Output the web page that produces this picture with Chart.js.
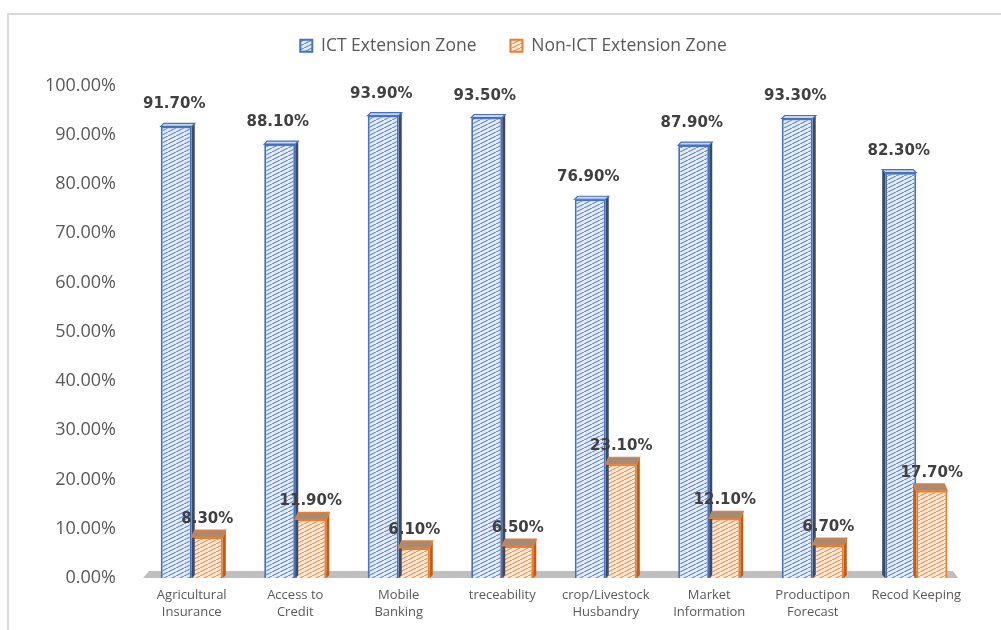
<!DOCTYPE html>
<html>
<head>
<meta charset="utf-8">
<script src="https://cdn.jsdelivr.net/npm/chart.js@4"></script>
<style>
  html, body { margin: 0; padding: 0; background: #fff; }
  .wrap { position: relative; width: 1001px; height: 630px; overflow: hidden; }
  .frame { position: absolute; left: 7px; top: 13px; right: -10px; bottom: -10px;
           border-left: 2px solid #d9d9d9; border-top: 2px solid #d9d9d9; }
  canvas { position: absolute; left: 0; top: 0; }
</style>
</head>
<body>
<div class="wrap">
  <div class="frame"></div>
  <canvas id="chart" width="1001" height="630"></canvas>
</div>
<script>
const categories = [
  ['Agricultural', 'Insurance'],
  ['Access to', 'Credit'],
  ['Mobile', 'Banking'],
  'treceability',
  ['crop/Livestock', 'Husbandry'],
  ['Market', 'Information'],
  ['Productipon', 'Forecast'],
  'Recod Keeping'
];
const ictValues = [91.7, 88.1, 93.9, 93.5, 76.9, 87.9, 93.3, 82.3];
const nonIctValues = [8.3, 11.9, 6.1, 6.5, 23.1, 12.1, 6.7, 17.7];
const yTicks = [0, 10, 20, 30, 40, 50, 60, 70, 80, 90, 100];

const canvas = document.getElementById('chart');
const ctx = canvas.getContext('2d');

// small diagonal hatch tile, like the Excel pattern fill
function hatch(bg, line) {
  const tile = document.createElement('canvas');
  tile.width = 8;
  tile.height = 4;
  const t = tile.getContext('2d');
  t.fillStyle = bg;
  t.fillRect(0, 0, 8, 4);
  t.strokeStyle = line;
  t.lineWidth = 1.1;
  t.beginPath();
  t.moveTo(-2, 5);
  t.lineTo(10, -1);
  t.stroke();
  return ctx.createPattern(tile, 'repeat');
}

const blueHatch = hatch('#e4ebf7', '#5b85d0');
const orangeHatch = hatch('#fdeadb', '#f08a44');

// grey floor under the columns
const floorPlugin = {
  id: 'floor',
  // the legend in the original sits a bit right of the canvas centre
  afterLayout(chart) {
    chart.legend.left += 17;
    chart.legend.right += 17;
  },
  beforeDatasetsDraw(chart) {
    const { ctx, chartArea: a } = chart;
    const base = chart.scales.y.getPixelForValue(0);
    ctx.save();
    ctx.fillStyle = '#bfbfbf';
    ctx.beginPath();
    ctx.moveTo(a.left + 3, base);
    ctx.lineTo(a.right - 10, base);
    ctx.lineTo(a.right - 15, base - 7);
    ctx.lineTo(a.left + 9, base - 7);
    ctx.closePath();
    ctx.fill();
    ctx.restore();
  }
};

// fake 3D: a top face and a side face on each column, then the value labels
const depthPlugin = {
  id: 'depth',
  afterDatasetsDraw(chart) {
    const { ctx, chartArea: a } = chart;
    const base = chart.scales.y.getPixelForValue(0);
    const vp = a.left + (a.right - a.left) * 0.9;
    chart.data.datasets.forEach((ds, di) => {
      const meta = chart.getDatasetMeta(di);
      meta.data.forEach((bar, i) => {
        const half = bar.width / 2;
        const l = bar.x - half, r = bar.x + half, y = bar.y;
        const d = ds.depth;
        const sx = bar.x < vp ? 3 : -3;
        ctx.save();
        // side
        ctx.fillStyle = ds.sideColor;
        ctx.beginPath();
        const edge = sx > 0 ? r : l;
        ctx.moveTo(edge, y);
        ctx.lineTo(edge + sx, y - d);
        ctx.lineTo(edge + sx, base - 3);
        ctx.lineTo(edge, base);
        ctx.closePath();
        ctx.fill();
        // top
        ctx.fillStyle = ds.topColor;
        ctx.strokeStyle = ds.borderColor;
        ctx.lineWidth = 1.2;
        ctx.beginPath();
        ctx.moveTo(l, y);
        ctx.lineTo(r, y);
        ctx.lineTo(r + sx, y - d);
        ctx.lineTo(l + sx, y - d);
        ctx.closePath();
        ctx.fill();
        ctx.stroke();
        // label
        ctx.fillStyle = '#404040';
        ctx.font = 'bold 15px "DejaVu Sans"';
        ctx.textAlign = 'center';
        ctx.textBaseline = 'alphabetic';
        ctx.fillText(ds.data[i].toFixed(2) + '%', bar.x + ds.labelShift, y - ds.labelGap);
        ctx.restore();
      });
    });
  }
};

new Chart(canvas, {
  type: 'bar',
  data: {
    labels: categories,
    datasets: [{
      label: 'ICT Extension Zone',
      data: ictValues,
      backgroundColor: blueHatch,
      borderColor: '#4472c4',
      borderWidth: 2,
      topColor: '#c9d6ef',
      sideColor: '#3b4a63',
      depth: 3,
      labelGap: 18,
      labelShift: -2,
    }, {
      label: 'Non-ICT Extension Zone',
      data: nonIctValues,
      backgroundColor: orangeHatch,
      borderColor: '#ed7d31',
      borderWidth: 2,
      topColor: '#a88a72',
      sideColor: '#c55a11',
      depth: 7,
      labelGap: 14,
      labelShift: 0,
    }],
  },
  options: {
    responsive: false,
    animation: false,
    categoryPercentage: 0.6,
    barPercentage: 1,
    layout: { padding: { left: 25, right: 33, top: 3, bottom: 0 } },
    plugins: {
      legend: {
        position: 'top',
        labels: {
          boxWidth: 12,
          boxHeight: 12,
          padding: 34,
          color: '#595959',
          font: { family: '"Open Sans"', size: 17.5 },
        },
      },
      // blank spacer between the legend and the plot
      title: {
        display: true,
        text: '',
        weight: 500,
        font: { size: 10, lineHeight: 1 },
        padding: { top: 5, bottom: 6 },
      },
      tooltip: { enabled: false },
    },
    scales: {
      x: {
        grid: { display: false, drawTicks: false },
        border: { display: false },
        afterFit: (scale) => { scale.height = 52; },
        ticks: {
          color: '#595959',
          padding: 9,
          maxRotation: 0,
          autoSkip: false,
          font: { family: '"Open Sans"', size: 13, lineHeight: 1.3 },
        },
      },
      y: {
        min: yTicks[0],
        max: yTicks[yTicks.length - 1],
        afterBuildTicks: (scale) => { scale.ticks = yTicks.map((v) => ({ value: v })); },
        afterFit: (scale) => { scale.width = 115; },
        grid: { display: false, drawTicks: false },
        border: { display: false },
        ticks: {
          color: '#595959',
          padding: 24,
          autoSkip: false,
          font: { family: '"Open Sans"', size: 18 },
          callback: (v) => v.toFixed(2) + '%',
        },
      },
    },
  },
  plugins: [floorPlugin, depthPlugin],
});
</script>
</body>
</html>
